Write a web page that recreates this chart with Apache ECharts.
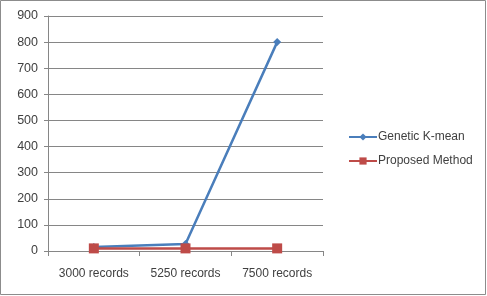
<!DOCTYPE html>
<html><head><meta charset="utf-8">
<script src="https://cdn.jsdelivr.net/npm/echarts@6/dist/echarts.min.js"></script>
<style>html,body{margin:0;padding:0;background:#fff}#c{width:487px;height:296px}</style>
</head><body><div id="c"></div>
<script>
const categories = ['3000 records', '5250 records', '7500 records'];
const geneticKMean = [15, 27, 800];
const proposedMethod = [10, 10, 10];
const yTicks = [0, 100, 200, 300, 400, 500, 600, 700, 800, 900];

const chart = echarts.init(document.getElementById('c'));
const font = 'Liberation Sans, Arial, sans-serif';
chart.setOption({
  animation: false,
  backgroundColor: '#fff',
  graphic: [{type: 'rect', shape: {x: 0.5, y: 0.5, width: 485, height: 294}, style: {fill: 'none', stroke: '#8c8c8c', lineWidth: 1}, silent: true}],
  grid: {left: 48, right: 164, top: 16, bottom: 45},
  xAxis: {
    type: 'category', data: categories, boundaryGap: true,
    axisLine: {lineStyle: {color: '#868686'}},
    axisTick: {show: true, length: 5, lineStyle: {color: '#868686'}},
    axisLabel: {color: '#404040', fontSize: 12, fontFamily: font, margin: 17}
  },
  yAxis: {
    type: 'value', min: yTicks[0], max: yTicks[yTicks.length - 1], interval: 100,
    axisLine: {show: true, lineStyle: {color: '#868686'}},
    axisTick: {show: true, length: 4, lineStyle: {color: '#868686'}},
    splitLine: {lineStyle: {color: '#868686'}},
    axisLabel: {color: '#404040', fontSize: 12.5, fontFamily: font, margin: 10}
  },
  legend: {
    orient: 'vertical', left: 343, top: 126, itemWidth: 28, itemHeight: 9, itemGap: 12,
    textStyle: {color: '#404040', fontSize: 12, fontFamily: font, padding: [0,0,0,-4]},
    data: ['Genetic K-mean', 'Proposed Method']
  },
  series: [
    {name: 'Genetic K-mean', type: 'line', data: geneticKMean, symbol: 'diamond', symbolSize: 8,
     lineStyle: {color: '#4A7EBB', width: 2.5}, itemStyle: {color: '#4A7EBB'}},
    {name: 'Proposed Method', type: 'line', data: proposedMethod, symbol: 'rect', symbolSize: 10,
     lineStyle: {color: '#BE4B48', width: 2.5}, itemStyle: {color: '#BE4B48'}}
  ]
});
</script></body></html>
